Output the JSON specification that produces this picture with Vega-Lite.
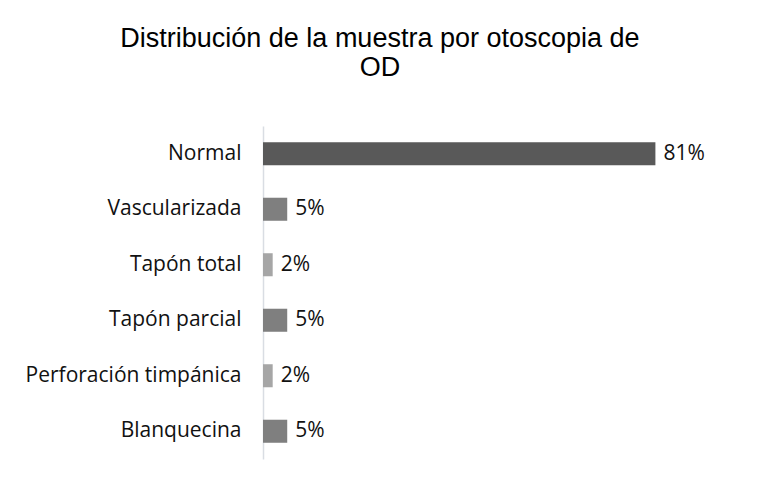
{
  "$schema": "https://vega.github.io/schema/vega-lite/v6.json",
  "width": 436,
  "height": 333,
  "padding": {"left": 25, "top": 25, "right": 10, "bottom": 20},
  "background": "white",
  "title": {
    "text": ["Distribución de la muestra por otoscopia de", "OD"],
    "font": "Liberation Sans",
    "fontSize": 27,
    "fontWeight": "normal",
    "color": "#000000",
    "anchor": "middle",
    "frame": "bounds",
    "lineHeight": 29,
    "offset": 44,
    "dx": 15
  },
  "data": {
    "values": [
      {"categoria": "Normal", "porcentaje": 0.81},
      {"categoria": "Vascularizada", "porcentaje": 0.05},
      {"categoria": "Tapón total ", "porcentaje": 0.02},
      {"categoria": "Tapón parcial ", "porcentaje": 0.05},
      {"categoria": "Perforación timpánica", "porcentaje": 0.02},
      {"categoria": "Blanquecina", "porcentaje": 0.05}
    ]
  },
  "encoding": {
    "y": {
      "field": "categoria",
      "type": "nominal",
      "sort": null,
      "scale": {"paddingInner": 0.585, "paddingOuter": 0.2925},
      "axis": {
        "title": null,
        "domainColor": "#d9dde3",
        "domainWidth": 1.5,
        "ticks": false,
        "labelFont": "Open Sans",
        "labelFontSize": 21,
        "labelColor": "#111111",
        "labelPadding": 22,
        "labelLimit": 0
      }
    },
    "x": {
      "field": "porcentaje",
      "type": "quantitative",
      "scale": {"domain": [0, 0.9]},
      "axis": null
    }
  },
  "layer": [
    {
      "mark": {"type": "bar"},
      "encoding": {
        "color": {
          "field": "categoria",
          "type": "nominal",
          "scale": {
            "domain": ["Normal", "Vascularizada", "Tapón total ", "Tapón parcial ", "Perforación timpánica", "Blanquecina"],
            "range": ["#595959", "#7f7f7f", "#a6a6a6", "#7f7f7f", "#a6a6a6", "#7f7f7f"]
          },
          "legend": null
        }
      }
    },
    {
      "mark": {"type": "text", "align": "left", "baseline": "middle", "dx": 8, "font": "Open Sans", "fontSize": 21, "color": "#111111"},
      "encoding": {"text": {"field": "porcentaje", "type": "quantitative", "format": ".0%"}}
    }
  ],
  "config": {"view": {"stroke": null}}
}
